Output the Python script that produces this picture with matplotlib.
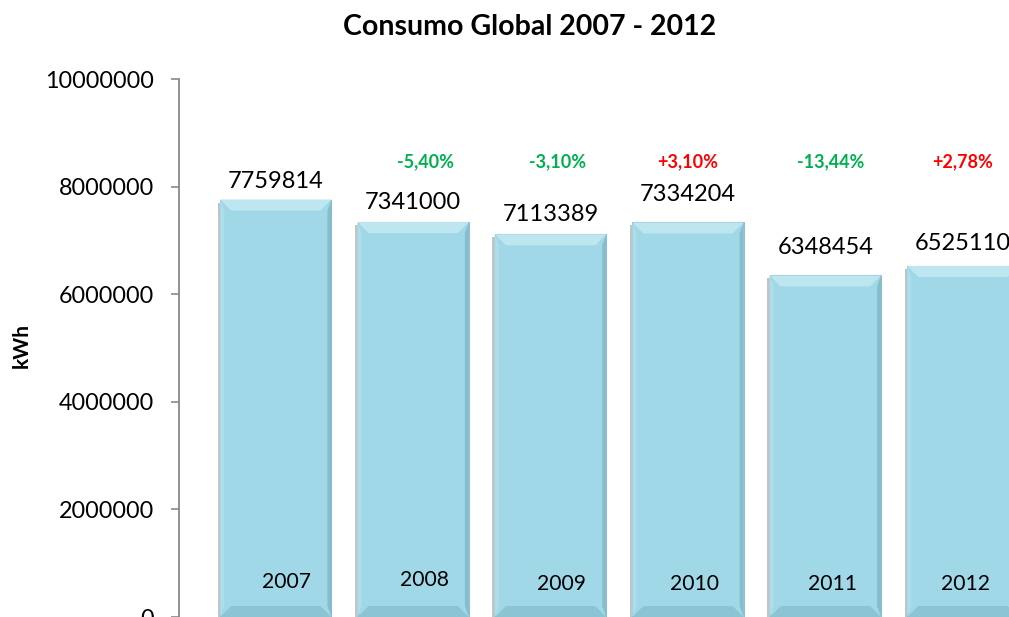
import numpy as np
import matplotlib.pyplot as plt
from matplotlib.patches import Polygon

# Annual consumption, kWh
years = ["2007", "2008", "2009", "2010", "2011", "2012"]
consumo = [7759814, 7341000, 7113389, 7334204, 6348454, 6525110]
variacao = ["", "-5,40%", "-3,10%", "+3,10%", "-13,44%", "+2,78%"]

# label offsets (points) for the value/year/percentage text boxes
val_dy = [13, 14, 14, 20, 20, 16]
year_dx = [8, 8, 8, 5, 5, 2]
year_dy = [2, 3, 0, 0, 0, 0]
pct_dx = [0, 9, 5, 0, 4, 0]

plt.rcParams['font.family'] = ['Lato', 'DejaVu Sans']

W, H = 1009, 617
fig = plt.figure(figsize=(W / 100, H / 100), dpi=100)
ax_l, ax_t = 179, 79
ax = fig.add_axes([ax_l / W, 0, (W - ax_l) / W, (H - ax_t) / H])

x = np.arange(len(years))
width = 0.81
xmin, xmax = -0.7045, 5.336
ymax = 10000000
ax.set_xlim(xmin, xmax)
ax.set_ylim(0, ymax)

fill = '#A0D8E8'
ax.bar(x, consumo, width=width, color=fill, edgecolor='#8FBFCC', linewidth=0.8, zorder=2)

# bevel effect: units per pixel
ux = (xmax - xmin) / (W - ax_l)
uy = ymax / (H - ax_t)
bx, by = 11 * ux, 11 * uy
sx = 4 * ux
for xi, v in zip(x, consumo):
    l, r = xi - width / 2, xi + width / 2
    # light top bevel
    ax.add_patch(Polygon([(l, v), (r, v), (r - bx, v - by), (l + bx, v - by)],
                         closed=True, color='#BEE6F1', lw=0, zorder=3))
    # narrow side bevels
    ax.add_patch(Polygon([(l, v), (l + sx, v - by), (l + sx, by), (l, 0)],
                         closed=True, color='#AEDEEB', lw=0, zorder=3))
    ax.add_patch(Polygon([(r, v), (r - sx, v - by), (r - sx, by), (r, 0)],
                         closed=True, color='#86BCCB', lw=0, zorder=3))
    # darker bottom bevel
    ax.add_patch(Polygon([(l, 0), (r, 0), (r - bx, by), (l + bx, by)],
                         closed=True, color='#8DC4D3', lw=0, zorder=3))
    # soft shadow on the left
    ax.add_patch(Polygon([(l - 2.5 * ux, v - 3 * uy), (l, v - 3 * uy), (l, 0), (l - 2.5 * ux, 0)],
                         closed=True, color='#BFC6C8', lw=0, zorder=1))

for i, v in enumerate(consumo):
    ax.annotate(str(v), (x[i], v), xytext=(0, val_dy[i]), textcoords='offset points',
                ha='center', va='center', fontsize=17, color='black', zorder=5)
    ax.annotate(years[i], (x[i], 0), xytext=(year_dx[i], 23.5 + year_dy[i]),
                textcoords='offset points', ha='center', va='center',
                fontsize=15.2, color='black', zorder=5)
    if variacao[i]:
        cor = '#FF0000' if variacao[i].startswith('+') else '#00B050'
        ax.text(x[i] + pct_dx[i] * ux * 100 / 72, 8457000, variacao[i], ha='center', va='center',
                fontsize=13, fontweight='bold', color=cor, zorder=5)

ax.set_yticks(np.arange(0, ymax + 1, 2000000))
ax.yaxis.set_major_formatter(plt.FuncFormatter(lambda v, p: f"{int(v)}"))
ax.tick_params(axis='y', labelsize=16.8, length=6, width=1.2, color='#888888', pad=12)
ax.set_xticks([])
for s in ['top', 'right', 'bottom']:
    ax.spines[s].set_visible(False)
ax.spines['left'].set_color('#888888')
ax.spines['left'].set_linewidth(1.3)

fig.text(22 / W, 1 - 345 / H, 'kWh', rotation=90, ha='center', va='center',
         fontsize=15, fontweight='bold')
fig.text(530 / W, 1 - 27 / H, 'Consumo Global 2007 - 2012', ha='center', va='center',
         fontsize=20.5, fontweight='bold')

fig.savefig('out.png', dpi=100)
